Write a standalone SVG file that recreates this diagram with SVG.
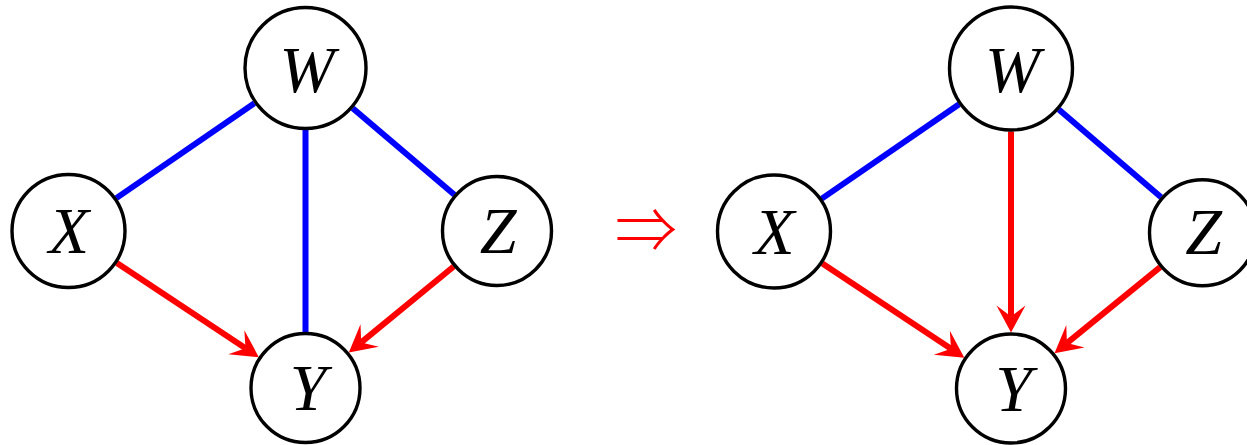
<svg xmlns="http://www.w3.org/2000/svg" width="1247" height="445" viewBox="0 0 1247 445">
<style>
.node{fill:#fff;stroke:#000;stroke-width:3.4}
.lbl{font-family:"Liberation Serif","Times New Roman",serif;font-style:italic;font-size:66px;text-anchor:middle;fill:#000}
.ud{stroke:#0000ff;stroke-width:6;fill:none}
.dir{stroke:#ff0000;stroke-width:6;fill:none;marker-end:url(#ah)}
.imp{font-family:"Noto Sans CJK JP","DejaVu Serif",sans-serif;font-size:62px;font-weight:300;fill:#ff0000;text-anchor:middle}
</style>
<defs>
<marker id="ah" markerUnits="userSpaceOnUse" viewBox="-12 -15 30 30" refX="0" refY="0" markerWidth="30" markerHeight="30" orient="auto">
<path d="M16,0 L-11,-14.5 L0,0 L-11,14.5 Z" fill="#ff0000"/>
</marker>
</defs>
<g id="connectors">
<line class="ud" x1="254.4" y1="103.1" x2="116.3" y2="198.1"/>
<line class="ud" x1="305.5" y1="130" x2="305.5" y2="333"/>
<line class="ud" x1="352.7" y1="108.2" x2="454.4" y2="194.7"/>
<line class="dir" x1="116.9" y1="263" x2="245.5" y2="348.3"/>
<line class="dir" x1="453.7" y1="266.5" x2="361.2" y2="342.4"/>
<line class="ud" x1="959.1" y1="104.2" x2="821.8" y2="198.6"/>
<line class="ud" x1="1058.8" y1="109.5" x2="1161.1" y2="197.3"/>
<line class="dir" x1="1011" y1="131.5" x2="1011" y2="316.5"/>
<line class="dir" x1="822.4" y1="263.5" x2="951" y2="348.8"/>
<line class="dir" x1="1160.2" y1="267.2" x2="1066.9" y2="343.1"/>
</g>
<g id="L_W"><circle class="node" cx="305.5" cy="68" r="60.5"/><text class="lbl" x="307" y="92">W</text></g>
<g id="L_X"><circle class="node" cx="68.5" cy="231" r="56.5"/><text class="lbl" x="69" y="253">X</text></g>
<g id="L_Z"><circle class="node" cx="497" cy="231" r="54.5"/><text class="lbl" x="498" y="253">Z</text></g>
<g id="L_Y"><circle class="node" cx="305.5" cy="388" r="54.5"/><text class="lbl" x="308" y="410">Y</text></g>
<g id="implies"><text class="imp" x="646" y="253">⇒</text></g>
<g id="R_W"><circle class="node" cx="1011" cy="68.5" r="61.5"/><text class="lbl" x="1012.5" y="92">W</text></g>
<g id="R_X"><circle class="node" cx="774" cy="231.5" r="56.5"/><text class="lbl" x="774.5" y="253.5">X</text></g>
<g id="R_Z"><circle class="node" cx="1202.5" cy="232.8" r="53"/><text class="lbl" x="1203.5" y="254">Z</text></g>
<g id="R_Y"><circle class="node" cx="1011" cy="388.5" r="54.5"/><text class="lbl" x="1013.5" y="410.5">Y</text></g>
</svg>
